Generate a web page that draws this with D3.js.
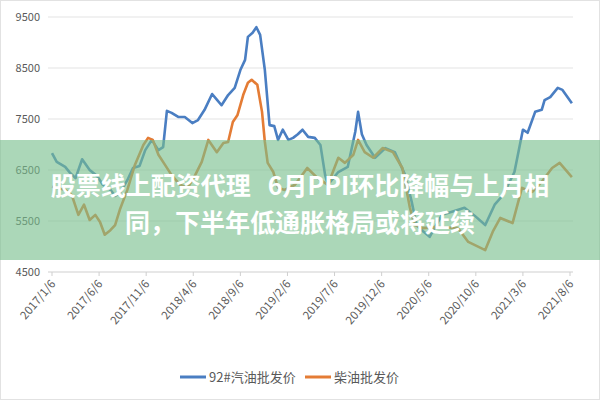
<!DOCTYPE html>
<html><head><meta charset="utf-8">
<script src="https://cdn.jsdelivr.net/npm/d3@7"></script>
<style>body{margin:0;background:#fff}</style>
</head><body>
<div id="chart"></div>
<script>
// months since 2017/1/6
var tickMonths = [0, 5, 10, 15, 20, 25, 30, 35, 40, 45, 50, 55];
var tickLabels = ["2017/1/6", "2017/6/6", "2017/11/6", "2018/4/6", "2018/9/6", "2019/2/6",
	"2019/7/6", "2019/12/6", "2020/5/6", "2020/10/6", "2021/3/6", "2021/8/6"];
var yTicks = [4500, 5500, 6500, 7500, 8500, 9500];

var gasMonths = [0, 0.5, 1.4, 1.9, 2.5, 3.2, 4.0, 4.8, 5.4, 6.2, 6.7, 7.2, 8.0, 8.6, 9.3, 9.9, 10.6, 11.3, 11.8, 12.2, 12.7, 13.4, 14.1, 14.9, 15.5, 16.2, 17.0, 17.5, 18.0, 18.7, 19.4, 20.0, 20.5, 20.8, 21.3, 21.7, 22.1, 22.6, 23.1, 23.6, 24.0, 24.5, 25.1, 25.6, 26.1, 26.6, 27.2, 27.9, 28.5, 29.0, 29.3, 30.4, 31.4, 32.2, 32.5, 32.9, 33.4, 34.3, 35.4, 36.4, 37.5, 38.2, 38.7, 39.4, 40.1, 41.4, 42.8, 43.8, 44.9, 46.0, 47.0, 47.9, 49.1, 50.0, 50.5, 51.3, 52.0, 52.3, 52.9, 53.7, 54.2, 55.2];
var gasValues = [6830, 6660, 6560, 6450, 6340, 6710, 6500, 6380, 6210, 6110, 5990, 6050, 6300, 6540, 6580, 6890, 7090, 6890, 6950, 7660, 7620, 7540, 7540, 7420, 7480, 7680, 7990, 7880, 7770, 7970, 8110, 8460, 8660, 9110, 9190, 9300, 9150, 8460, 7380, 7360, 7090, 7290, 7090, 7130, 7200, 7290, 7150, 7130, 6990, 6400, 6210, 6460, 6560, 7250, 7640, 7200, 6990, 6740, 6930, 6850, 6400, 5870, 5420, 5300, 5190, 5620, 5700, 5760, 5600, 5420, 5820, 6010, 6460, 7290, 7230, 7640, 7680, 7870, 7930, 8110, 8070, 7810];

var dieselMonths = [0, 0.6, 1.4, 2.1, 2.8, 3.4, 4.0, 4.6, 5.1, 5.6, 6.2, 6.7, 7.2, 8.0, 8.8, 9.7, 10.2, 10.7, 11.3, 12.0, 12.7, 13.6, 14.4, 15.2, 15.9, 16.6, 17.5, 18.2, 18.7, 19.2, 19.7, 20.3, 20.8, 21.2, 21.8, 22.3, 22.6, 22.9, 23.5, 24.0, 24.7, 25.8, 27.1, 28.2, 29.3, 30.4, 31.1, 32.0, 32.5, 33.2, 34.1, 35.1, 36.2, 37.2, 38.0, 38.5, 39.4, 40.7, 43.1, 44.2, 46.0, 46.8, 47.6, 48.9, 49.9, 51.0, 52.0, 53.1, 53.9, 55.2];
var dieselValues = [6170, 6150, 6110, 6010, 5620, 5820, 5520, 5620, 5480, 5230, 5320, 5420, 5720, 6110, 6600, 6990, 7130, 7090, 6800, 6600, 6400, 6210, 6150, 6400, 6660, 7090, 6850, 7030, 7050, 7440, 7580, 7970, 8210, 8270, 8170, 7640, 7050, 6640, 6460, 6150, 6110, 6210, 6540, 6340, 6210, 6740, 6640, 6800, 7090, 6850, 6740, 6930, 6850, 6540, 5760, 5420, 5360, 5380, 5360, 5090, 4930, 5290, 5560, 5460, 6150, 6070, 6270, 6540, 6640, 6360];

var seriesNames = ["92#汽油批发价", "柴油批发价"];
var colors = ["#4a7ec2", "#e47c35"];
var bannerLines = ["股票线上配资代理   6月PPI环比降幅与上月相", "同，下半年低通胀格局或将延续"];

var w = 600, h = 400;
var svg = d3.select("#chart").append("svg").attr("width", w).attr("height", h)
	.style("font-family", "'Noto Sans CJK SC', 'Noto Sans', sans-serif");

svg.append("rect").attr("x", 0.5).attr("y", 0.5).attr("width", w - 1).attr("height", h - 1)
	.attr("fill", "#fff").attr("stroke", "#e2e2e2");

var x = d3.scaleLinear().domain([0, 55]).range([52, 570]);
var y = d3.scaleLinear().domain([4500, 9500]).range([272, 17]);

// gridlines
svg.selectAll(".grid").data(yTicks).enter().append("line")
	.attr("x1", 48).attr("x2", 573)
	.attr("y1", function (d) { return y(d); }).attr("y2", function (d) { return y(d); })
	.attr("stroke", function (d) { return d == 4500 ? "#cfcfcf" : "#e3e3e3"; }).attr("stroke-width", 1.2);

svg.selectAll(".ylab").data(yTicks).enter().append("text")
	.attr("x", 40).attr("y", function (d) { return y(d) + 4; })
	.attr("text-anchor", "end").attr("font-size", 11).attr("fill", "#595959")
	.text(function (d) { return d; });

// x ticks
svg.selectAll(".xt").data(tickMonths).enter().append("line")
	.attr("x1", function (d) { return x(d); }).attr("x2", function (d) { return x(d); })
	.attr("y1", y(4500)).attr("y2", y(4500) + 4).attr("stroke", "#cfcfcf");

svg.selectAll(".xlab").data(tickMonths).enter().append("text")
	.attr("transform", function (d) { return "translate(" + (x(d) + 4) + "," + (y(4500) + 12) + ") rotate(-50)"; })
	.attr("text-anchor", "end").attr("font-size", 11.5).attr("fill", "#595959")
	.text(function (d, i) { return tickLabels[i]; });

function drawLine(months, values, color) {
	var pts = months.map(function (m, i) { return [m, values[i]]; });
	svg.append("path").datum(pts)
		.attr("fill", "none").attr("stroke", color).attr("stroke-width", 2.6)
		.attr("stroke-linejoin", "round")
		.attr("d", d3.line().x(function (d) { return x(d[0]); }).y(function (d) { return y(d[1]); }));
}
drawLine(gasMonths, gasValues, colors[0]);
drawLine(dieselMonths, dieselValues, colors[1]);

// legend
var legX = [180, 305];
seriesNames.forEach(function (n, i) {
	svg.append("line").attr("x1", legX[i]).attr("x2", legX[i] + 26).attr("y1", 377).attr("y2", 377)
		.attr("stroke", colors[i]).attr("stroke-width", 3);
	svg.append("text").attr("x", legX[i] + 29).attr("y", 382).attr("font-size", 13).attr("fill", "#595959").text(n);
});

// banner overlay
svg.append("rect").attr("x", 0).attr("y", 140).attr("width", w).attr("height", 120)
	.attr("fill", "rgb(120,190,140)").attr("opacity", 0.62);
bannerLines.forEach(function (t, i) {
	svg.append("text").attr("x", 300).attr("y", 195 + i * 37).attr("text-anchor", "middle")
		.attr("font-size", 25).attr("font-weight", "bold").attr("fill", "#fff")
		.style("white-space", "pre").text(t);
});
</script>
</body></html>
